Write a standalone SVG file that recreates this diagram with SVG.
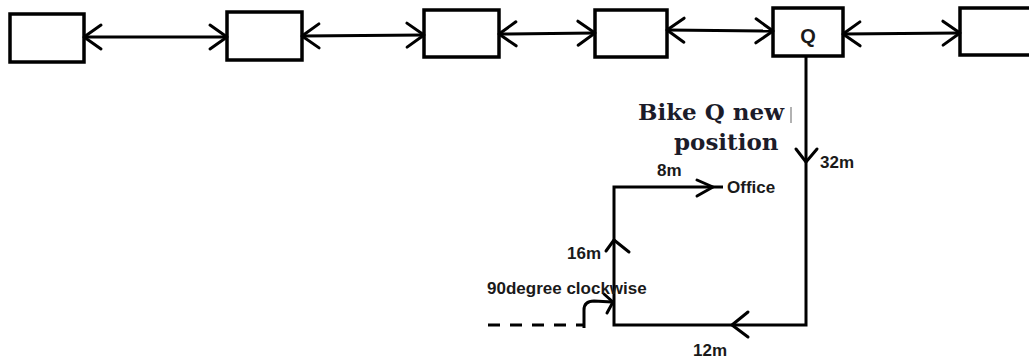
<svg xmlns="http://www.w3.org/2000/svg" width="1029" height="360" viewBox="0 0 1029 360">
<style>
.box{fill:#fff;stroke:#000;stroke-width:3.5}
.ln{fill:none;stroke:#000;stroke-width:3}
.chev{fill:none;stroke:#000;stroke-width:3;stroke-linecap:round;stroke-linejoin:round}
.lbl{font-family:"Liberation Sans",Arial,sans-serif;font-weight:bold;fill:#1a1a1a;font-size:17px}
.big{font-family:"DejaVu Serif",serif;font-weight:bold;font-size:23px;fill:#1c1c2a}
</style>
<defs>
<marker id="arr" viewBox="-20 -15 23 30" markerWidth="23" markerHeight="30" refX="0" refY="0" markerUnits="userSpaceOnUse" orient="auto-start-reverse">
<path d="M-17,-12 L0,0 L-17,12" fill="none" stroke="#000" stroke-width="3" stroke-linecap="round" stroke-linejoin="round"/>
</marker>
</defs>
<rect width="1029" height="360" fill="#fff"/>
<g id="box1"><rect class="box" x="10" y="14" width="74" height="48"/></g>
<g id="box2"><rect class="box" x="227" y="12" width="75" height="48"/></g>
<g id="box3"><rect class="box" x="424" y="10" width="75" height="47"/></g>
<g id="box4"><rect class="box" x="595" y="10" width="72" height="47"/></g>
<g id="boxQ"><rect class="box" x="773" y="8" width="70" height="48"/>
<text class="lbl" x="808" y="43" style="font-size:20px" text-anchor="middle">Q</text></g>
<g id="box6"><rect class="box" x="960" y="8" width="80" height="47"/></g>
<g id="connectors">
<line class="ln" x1="84" y1="37" x2="227" y2="37" marker-start="url(#arr)" marker-end="url(#arr)"/>
<line class="ln" x1="302" y1="36" x2="424" y2="35" marker-start="url(#arr)" marker-end="url(#arr)"/>
<line class="ln" x1="499" y1="34" x2="595" y2="33" marker-start="url(#arr)" marker-end="url(#arr)"/>
<line class="ln" x1="667" y1="30" x2="773" y2="31" marker-start="url(#arr)" marker-end="url(#arr)"/>
<line class="ln" x1="843" y1="34" x2="960" y2="33" marker-start="url(#arr)" marker-end="url(#arr)"/>
<path class="ln" d="M806,56 L806,325 L614,325 L614,187 L723,187"/>
<path class="chev" d="M796,149 L806,162 L817,149"/>
<path class="chev" d="M748,312 L732,325 L748,337"/>
<path class="chev" d="M606,251 L614,240 L629,252"/>
<path class="chev" d="M697,180 L713,187 L697,196"/>
<line x1="488" y1="325" x2="584" y2="325" stroke="#000" stroke-width="3" stroke-dasharray="12,10"/>
<path class="ln" d="M584,328 L584,310 Q584,301 594,301 L612,302"/>
<path class="chev" d="M604,294 L613,302 L607,313"/>
</g>
<g id="labels">
<text class="big" x="638" y="120">Bike Q new</text>
<text class="big" x="674" y="150">position</text>
<line x1="791" y1="107" x2="791" y2="123" stroke="#999" stroke-width="1.5"/>
<text class="lbl" x="820" y="168">32m</text>
<text class="lbl" x="657" y="176">8m</text>
<text class="lbl" x="727" y="193">Office</text>
<text class="lbl" x="567" y="259">16m</text>
<text class="lbl" x="487" y="294">90degree clockwise</text>
<text class="lbl" x="693" y="356">12m</text>
</g>
</svg>
